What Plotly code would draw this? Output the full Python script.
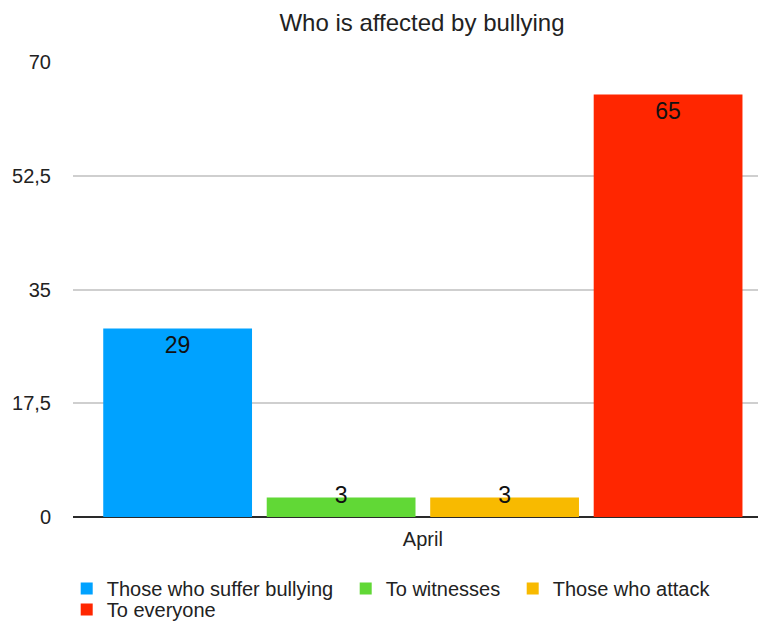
import plotly.graph_objects as go

# Chart data
month = "April"
groups = ["Those who suffer bullying", "To witnesses", "Those who attack", "To everyone"]
values = [29, 3, 3, 65]
colors = ["#00A2FF", "#61D836", "#F8BA00", "#FF2600"]
y_ticks = [0, 17.5, 35, 52.5, 70]
y_tick_labels = ["0", "17,5", "35", "52,5", "70"]

FONT = "Liberation Sans, Arial, Helvetica, sans-serif"
slots = list(range(len(groups)))
# first three entries share one legend row, the last one wraps onto a second
legend_ids = ["legend", "legend", "legend", "legend2"]
legend_entry_px = [234, 122, 165, 120]

fig = go.Figure()
for i, (name, val, col) in enumerate(zip(groups, values, colors)):
    fits = val >= 10
    fig.add_trace(go.Bar(
        x=[slots[i]], y=[val], name=name,
        marker=dict(color=col, line=dict(width=0)),
        width=0.91,
        text=[str(val)] if fits else None,
        textposition="inside", insidetextanchor="end",
        constraintext="none",
        textfont=dict(family=FONT, size=23, color="#111111"),
        hoverinfo="name+y",
        legend=legend_ids[i],
        legendwidth=legend_entry_px[i],
    ))

# Labels for short bars sit centred on the bar top
small = [(s, v) for s, v in zip(slots, values) if v < 10]
fig.add_trace(go.Scatter(
    x=[s for s, _ in small], y=[v for _, v in small],
    mode="text", text=[str(v) for _, v in small],
    textposition="middle center",
    textfont=dict(family=FONT, size=23, color="#111111"),
    showlegend=False, hoverinfo="skip", cliponaxis=False,
))

legend_style = dict(orientation="h", xref="container", x=0.088, xanchor="left",
                    yref="paper", yanchor="top",
                    font=dict(family=FONT, size=20, color="#222222"),
                    traceorder="normal", itemwidth=30, tracegroupgap=0,
                    bgcolor="rgba(0,0,0,0)")

fig.update_layout(
    width=758, height=621,
    margin=dict(l=73, r=0, t=62, b=104, autoexpand=False),
    paper_bgcolor="white", plot_bgcolor="white",
    barmode="overlay",
    title=dict(text="Who is affected by bullying", xref="paper", x=0.5095,
               xanchor="center", yref="container", y=1 - 23 / 621,
               yanchor="middle",
               font=dict(family=FONT, size=24, color="#222222")),
    font=dict(family=FONT, color="#222222"),
    legend=dict(legend_style, y=-0.1143),
    legend2=dict(legend_style, y=-0.1604),
    xaxis=dict(range=[-0.64, 3.55], tickvals=[1.5], ticktext=[month],
               showgrid=False, zeroline=False, showline=False, ticks="",
               ticklabelstandoff=8,
               tickfont=dict(family=FONT, size=20, color="#222222"),
               fixedrange=True),
    yaxis=dict(range=[0, 70], tickvals=y_ticks, ticktext=y_tick_labels,
               showgrid=True, gridcolor="#CFCFCF", gridwidth=1.5,
               zeroline=True, zerolinecolor="#2A2A2A", zerolinewidth=2,
               showline=False, ticks="", ticklabelstandoff=21,
               tickfont=dict(family=FONT, size=20, color="#222222"),
               fixedrange=True),
)

fig.write_html("out.html")
